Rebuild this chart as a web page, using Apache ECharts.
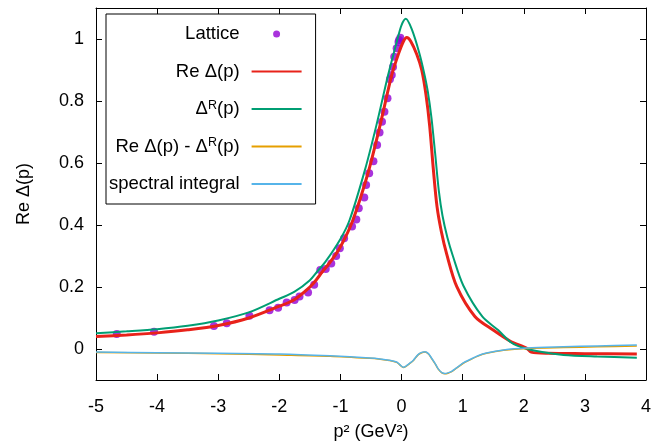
<!DOCTYPE html>
<html>
<head>
<meta charset="utf-8">
<script src="https://cdn.jsdelivr.net/npm/echarts@6/dist/echarts.min.js"></script>
<style>
html,body{margin:0;padding:0;background:#fff;}
#chart{width:653px;height:441px;}
</style>
</head>
<body>
<div id="chart"></div>
<script>
// Lattice points
const latticeP2 = [-4.66, -4.05, -3.07, -2.86, -2.49, -2.16, -2.02, -1.88, -1.75, -1.67, -1.53, -1.43, -1.33, -1.24, -1.15, -1.07, -1.01, -0.94, -0.81, -0.74, -0.70, -0.61, -0.58, -0.53, -0.46, -0.40, -0.36, -0.32, -0.28, -0.23, -0.19, -0.16, -0.14, -0.12, -0.08, -0.05, -0.04, -0.02];
const latticeVal = [0.048, 0.056, 0.074, 0.083, 0.107, 0.125, 0.133, 0.150, 0.158, 0.169, 0.182, 0.207, 0.255, 0.258, 0.276, 0.300, 0.325, 0.357, 0.395, 0.418, 0.454, 0.489, 0.529, 0.567, 0.606, 0.658, 0.698, 0.733, 0.765, 0.809, 0.870, 0.884, 0.910, 0.943, 0.970, 0.990, 0.997, 1.004];

// Re Δ(p)
const reP2 = [-5, -4.5, -4, -3.5, -3, -2.5, -2, -1.75, -1.5, -1.4, -1.3, -1.15, -1.0, -0.8, -0.55, -0.35, -0.16, -0.05, 0.03, 0.085, 0.15, 0.25, 0.33, 0.40, 0.46, 0.52, 0.58, 0.65, 0.74, 0.904, 1.2, 1.5, 1.78, 2.05, 2.12, 2.4, 3.0, 3.85];
const reVal = [0.040, 0.045, 0.052, 0.062, 0.076, 0.100, 0.138, 0.160, 0.200, 0.222, 0.248, 0.285, 0.330, 0.414, 0.567, 0.723, 0.884, 0.952, 0.992, 1.005, 0.993, 0.950, 0.900, 0.820, 0.720, 0.580, 0.460, 0.380, 0.305, 0.201, 0.105, 0.061, 0.025, 0.002, -0.010, -0.014, -0.015, -0.016];

// Δ^R(p)
const rP2 = [-5, -4.5, -4, -3.5, -3, -2.5, -2, -1.75, -1.5, -1.38, -1.25, -1.0, -0.85, -0.6, -0.41, -0.22, -0.07, 0.0, 0.07, 0.17, 0.29, 0.37, 0.43, 0.49, 0.55, 0.61, 0.67, 0.75, 0.84, 1.01, 1.32, 1.58, 1.80, 2.0, 2.3, 2.65, 3.2, 3.85];
const rVal = [0.051, 0.057, 0.064, 0.075, 0.092, 0.118, 0.162, 0.185, 0.222, 0.250, 0.280, 0.355, 0.416, 0.577, 0.723, 0.884, 0.997, 1.045, 1.065, 1.030, 0.955, 0.890, 0.830, 0.745, 0.630, 0.510, 0.430, 0.360, 0.300, 0.205, 0.105, 0.061, 0.020, 0.003, -0.010, -0.019, -0.024, -0.028];

// Re Δ(p) - Δ^R(p)
const diffP2 = [-5, -4, -3, -2, -1.17, -0.52, -0.35, -0.2, -0.08, -0.025, 0.03, 0.08, 0.14, 0.19, 0.27, 0.33, 0.385, 0.44, 0.49, 0.55, 0.60, 0.66, 0.71, 0.76, 0.82, 0.9, 1.01, 1.12, 1.25, 1.39, 1.67, 2.05, 2.65, 3.2, 3.85];
const diffVal = [-0.011, -0.013, -0.015, -0.019, -0.023, -0.030, -0.033, -0.037, -0.043, -0.052, -0.060, -0.055, -0.046, -0.038, -0.019, -0.012, -0.010, -0.016, -0.030, -0.048, -0.065, -0.077, -0.080, -0.078, -0.073, -0.062, -0.046, -0.035, -0.023, -0.014, -0.004, 0.002, 0.005, 0.007, 0.010];

// spectral integral
const specP2 = [-5, -4, -3, -2, -1.17, -0.52, -0.35, -0.2, -0.08, -0.025, 0.03, 0.08, 0.14, 0.19, 0.27, 0.33, 0.385, 0.44, 0.49, 0.55, 0.60, 0.66, 0.71, 0.76, 0.82, 0.9, 1.01, 1.12, 1.25, 1.39, 1.67, 2.05, 2.65, 3.2, 3.85];
const specVal = [-0.010, -0.012, -0.014, -0.016, -0.022, -0.029, -0.032, -0.036, -0.042, -0.051, -0.059, -0.054, -0.045, -0.037, -0.018, -0.011, -0.009, -0.015, -0.029, -0.047, -0.064, -0.076, -0.079, -0.077, -0.072, -0.061, -0.045, -0.034, -0.022, -0.013, -0.003, 0.003, 0.007, 0.010, 0.013];

const yTicks = [0, 0.2, 0.4, 0.6, 0.8, 1];

const names = ['Lattice', 'Re Δ(p)', 'ΔR(p)', 'Re Δ(p) - ΔR(p)', 'spectral integral'];
const legendLabels = {
  'Lattice': '{n|Lattice}',
  'Re Δ(p)': '{n|Re Δ(p)}',
  'ΔR(p)': '{n|Δ}{s|R}{n|(p)}',
  'Re Δ(p) - ΔR(p)': '{n|Re Δ(p) - Δ}{s|R}{n|(p)}',
  'spectral integral': '{n|spectral integral}'
};

function zip(xs, ys) { return xs.map((x, i) => [x, ys[i]]); }

const FONT = 'Liberation Sans, Arial, sans-serif';
const chart = echarts.init(document.getElementById('chart'), null, {renderer: 'canvas'});

function lineSeries(name, xs, ys, color, width) {
  return {
    name: name, type: 'line', data: zip(xs, ys), symbol: 'none',
    smooth: 0.3,
    lineStyle: {color: color, width: width}, itemStyle: {color: color},
    emphasis: {disabled: true}, silent: true
  };
}

chart.setOption({
  animation: false,
  backgroundColor: '#fff',
  textStyle: {fontFamily: FONT},
  grid: {left: 96, right: 7, top: 8, bottom: 61, show: false, containLabel: false, outerBoundsMode: 'none'},
  legend: {
    left: 106, top: 14, orient: 'vertical', align: 'right',
    data: names.map(function (n, i) {
      return i === 0 ? {name: n} : {name: n, itemStyle: {opacity: 0}};
    }),
    itemWidth: 50, itemHeight: 7, itemGap: 17.5,
    padding: [10, 13, 10, 3],
    borderColor: '#000', borderWidth: 1, backgroundColor: '#fff',
    selectedMode: false,
    formatter: function (n) { return legendLabels[n]; },
    textStyle: {
      fontSize: 18.5, color: '#000', fontFamily: FONT, padding: [0, 7, 0, 0], lineHeight: 20,
      rich: {
        n: {fontSize: 18.5, color: '#000', fontFamily: FONT, lineHeight: 20, verticalAlign: 'middle'},
        s: {fontSize: 12.5, color: '#000', fontFamily: FONT, verticalAlign: 'top', lineHeight: 10}
      }
    }
  },
  xAxis: [{
    type: 'value', position: 'bottom', min: -5, max: 4, interval: 1,
    axisLine: {show: true, onZero: false, lineStyle: {color: '#000', width: 1}},
    axisTick: {show: true, inside: true, length: 6, lineStyle: {color: '#000'}},
    axisLabel: {fontSize: 18, color: '#000', margin: 18, fontFamily: FONT},
    splitLine: {show: false},
    name: 'p² (GeV²)', nameLocation: 'middle', nameGap: 43,
    nameTextStyle: {fontSize: 18, color: '#000', fontFamily: FONT}
  }, {
    type: 'value', position: 'top', min: -5, max: 4, interval: 1,
    axisLine: {show: true, onZero: false, lineStyle: {color: '#000', width: 1}},
    axisTick: {show: true, inside: true, length: 6, lineStyle: {color: '#000'}},
    axisLabel: {show: false}, splitLine: {show: false}
  }],
  yAxis: [{
    type: 'value', position: 'left', min: -0.1, max: 1.1,
    axisLine: {show: true, onZero: false, lineStyle: {color: '#000', width: 1}},
    axisTick: {show: true, inside: true, length: 6, customValues: yTicks, lineStyle: {color: '#000'}},
    axisLabel: {fontSize: 18, color: '#000', margin: 12, customValues: yTicks, fontFamily: FONT,
      formatter: function (v) { return String(Math.round(v * 10) / 10); }},
    splitLine: {show: false},
    name: 'Re Δ(p)', nameLocation: 'middle', nameGap: 63, nameRotate: 90,
    nameTextStyle: {fontSize: 18, color: '#000', fontFamily: FONT}
  }, {
    type: 'value', position: 'right', min: -0.1, max: 1.1,
    axisLine: {show: true, onZero: false, lineStyle: {color: '#000', width: 1}},
    axisTick: {show: true, inside: true, length: 6, customValues: yTicks, lineStyle: {color: '#000'}},
    axisLabel: {show: false, customValues: yTicks}, splitLine: {show: false}
  }],
  series: [
    {
      name: 'Lattice', type: 'scatter', data: zip(latticeP2, latticeVal),
      symbol: 'circle', symbolSize: 8, itemStyle: {color: '#9400d3'},
      emphasis: {disabled: true}, silent: true
    },
    lineSeries('Re Δ(p)', reP2, reVal, '#e8221a', 3),
    lineSeries('ΔR(p)', rP2, rVal, '#009e73', 2),
    lineSeries('Re Δ(p) - ΔR(p)', diffP2, diffVal, '#e69f00', 1.5),
    lineSeries('spectral integral', specP2, specVal, '#56b4e9', 1.5)
  ]
});
</script>
</body>
</html>
